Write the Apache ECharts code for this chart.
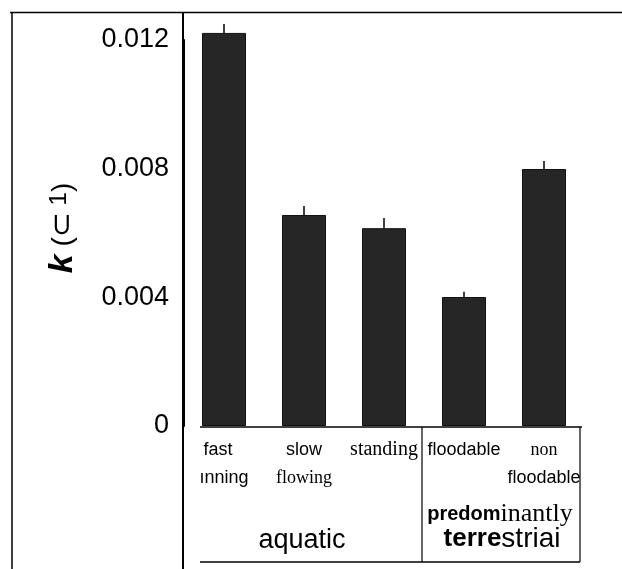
<!DOCTYPE html>
<html>
<head>
<meta charset="utf-8">
<script src="https://cdn.jsdelivr.net/npm/echarts@6/dist/echarts.min.js"></script>
<style>
html,body{margin:0;padding:0;background:#fff;}
#chart{width:622px;height:569px;}
</style>
</head>
<body>
<div id="chart"></div>
<script>
// ---- data ----
const categories = ['fast running', 'slow flowing', 'standing', 'floodable', 'non floodable'];
const rateValues = [0.01222, 0.00656, 0.00615, 0.00401, 0.00799];
const rateErrors = [0.00028, 0.00028, 0.00032, 0.00016, 0.00025];
const yTicks = [0, 0.004, 0.008, 0.012];
const categoryLines = [['fast', 'ınning'], ['slow', 'flowing'], ['standing'], ['floodable'], ['non', 'floodable']];
const groupLabels = ['aquatic', 'predom', 'inantly', 'terre', 'striai'];
const yTitleParts = ['k', ' (', '⊂', ' 1', ')'];

// per-line font style keys (style only)
const lineStyleKeys = [['sansL', 'sans'], ['sans', 'serif'], ['serifL'], ['sans'], ['serif', 'sans']];

const chart = echarts.init(document.getElementById('chart'), null, {renderer: 'canvas'});

const SANS = '"Liberation Sans", Arial, sans-serif';
const SERIF = '"Liberation Serif", "Times New Roman", serif';

const option = {
  backgroundColor: '#fff',
  animation: false,
  grid: {left: 184, right: 38, top: 40, bottom: 143, containLabel: false},
  xAxis: {
    type: 'category',
    data: categories,
    axisLine: {show: false},
    axisTick: {show: false},
    splitLine: {show: false},
    axisLabel: {
      interval: 0,
      margin: 10,
      color: '#000',
      formatter: function (v, idx) {
        const lines = categoryLines[idx];
        return lines.map((t, i) => '{' + lineStyleKeys[idx][i] + '|' + t + '}').join('\n');
      },
      rich: {
        sans: {fontFamily: SANS, fontSize: 18, lineHeight: 28, color: '#000'},
        sansL: {fontFamily: SANS, fontSize: 18, lineHeight: 28, color: '#000', padding: [0, 12, 0, 0]},
        serif: {fontFamily: SERIF, fontSize: 18, lineHeight: 28, color: '#000'},
        serifL: {fontFamily: SERIF, fontSize: 20, lineHeight: 28, color: '#000'}
      }
    }
  },
  yAxis: {
    type: 'value',
    min: yTicks[0],
    max: yTicks[yTicks.length - 1],
    interval: yTicks[1] - yTicks[0],
    axisLine: {show: true, lineStyle: {color: '#000', width: 2}},
    axisTick: {show: false},
    splitLine: {show: false},
    axisLabel: {
      margin: 15,
      color: '#000',
      fontFamily: SANS,
      fontSize: 27,
      formatter: function (v) { return v === 0 ? '0' : v.toFixed(3); }
    },
    name: '{k|' + yTitleParts[0] + '}{p|' + yTitleParts[1] + '}{u|' + yTitleParts[2] + '}{s|' + yTitleParts[3] + '}{p|' + yTitleParts[4] + '}',
    nameLocation: 'middle',
    nameRotate: 90,
    nameGap: 104,
    nameTextStyle: {
      padding: [0, 0, 0, 10],
      rich: {
        k: {fontFamily: SANS, fontSize: 34, fontWeight: 'bold', fontStyle: 'italic', color: '#000'},
        p: {fontFamily: SANS, fontSize: 28, color: '#000'},
        u: {fontFamily: '"DejaVu Sans", sans-serif', fontSize: 30, color: '#000'},
        s: {fontFamily: SANS, fontSize: 24, color: '#000', padding: [0, 0, 8, 0]}
      }
    }
  },
  series: [
    {
      type: 'bar',
      data: rateValues,
      barWidth: 44,
      clip: false,
      itemStyle: {color: '#262626', borderColor: '#111', borderWidth: 1}
    },
    {
      type: 'custom',
      clip: false,
      data: rateValues.map((v, i) => [i, v, v + rateErrors[i]]),
      renderItem: function (params, api) {
        const p0 = api.coord([api.value(0), api.value(1)]);
        const p1 = api.coord([api.value(0), api.value(2)]);
        return {
          type: 'line',
          shape: {x1: p0[0], y1: p0[1], x2: p1[0], y2: p1[1]},
          style: {stroke: '#000', lineWidth: 1.5}
        };
      },
      z: 3
    }
  ],
  graphic: [
    // outer frame
    {type: 'line', shape: {x1: 12, y1: 12, x2: 12, y2: 569}, style: {stroke: '#000', lineWidth: 1.5}},
    {type: 'line', shape: {x1: 10, y1: 12.5, x2: 622, y2: 12.5}, style: {stroke: '#000', lineWidth: 1.5}},
    {type: 'line', shape: {x1: 183, y1: 12, x2: 183, y2: 569}, style: {stroke: '#000', lineWidth: 2}},
    // category box
    {type: 'line', shape: {x1: 200, y1: 427, x2: 582, y2: 427}, style: {stroke: '#000', lineWidth: 1.5}},
    {type: 'line', shape: {x1: 200, y1: 562, x2: 580, y2: 562}, style: {stroke: '#000', lineWidth: 1.5}},
    {type: 'line', shape: {x1: 422, y1: 427, x2: 422, y2: 562}, style: {stroke: '#000', lineWidth: 1.2}},
    {type: 'line', shape: {x1: 580, y1: 427, x2: 580, y2: 562}, style: {stroke: '#000', lineWidth: 1.2}},
    // group labels
    {type: 'text', x: 302, y: 541, style: {text: groupLabels[0], fill: '#000', font: '27px ' + SANS, textAlign: 'center', textVerticalAlign: 'middle'}},
    {type: 'text', x: 500, y: 514, style: {
      text: '{a|' + groupLabels[1] + '}{b|' + groupLabels[2] + '}',
      textAlign: 'center', textVerticalAlign: 'middle',
      rich: {
        a: {fontFamily: SANS, fontSize: 20, fontWeight: 'bold', fill: '#000'},
        b: {fontFamily: SERIF, fontSize: 26, fill: '#000'}
      }
    }},
    {type: 'text', x: 502, y: 539, style: {
      text: '{a|' + groupLabels[3] + '}{b|' + groupLabels[4] + '}',
      textAlign: 'center', textVerticalAlign: 'middle',
      rich: {
        a: {fontFamily: SANS, fontSize: 26, fontWeight: 'bold', fill: '#000'},
        b: {fontFamily: SANS, fontSize: 28, fill: '#000'}
      }
    }}
  ]
};

chart.setOption(option);
</script>
</body>
</html>
